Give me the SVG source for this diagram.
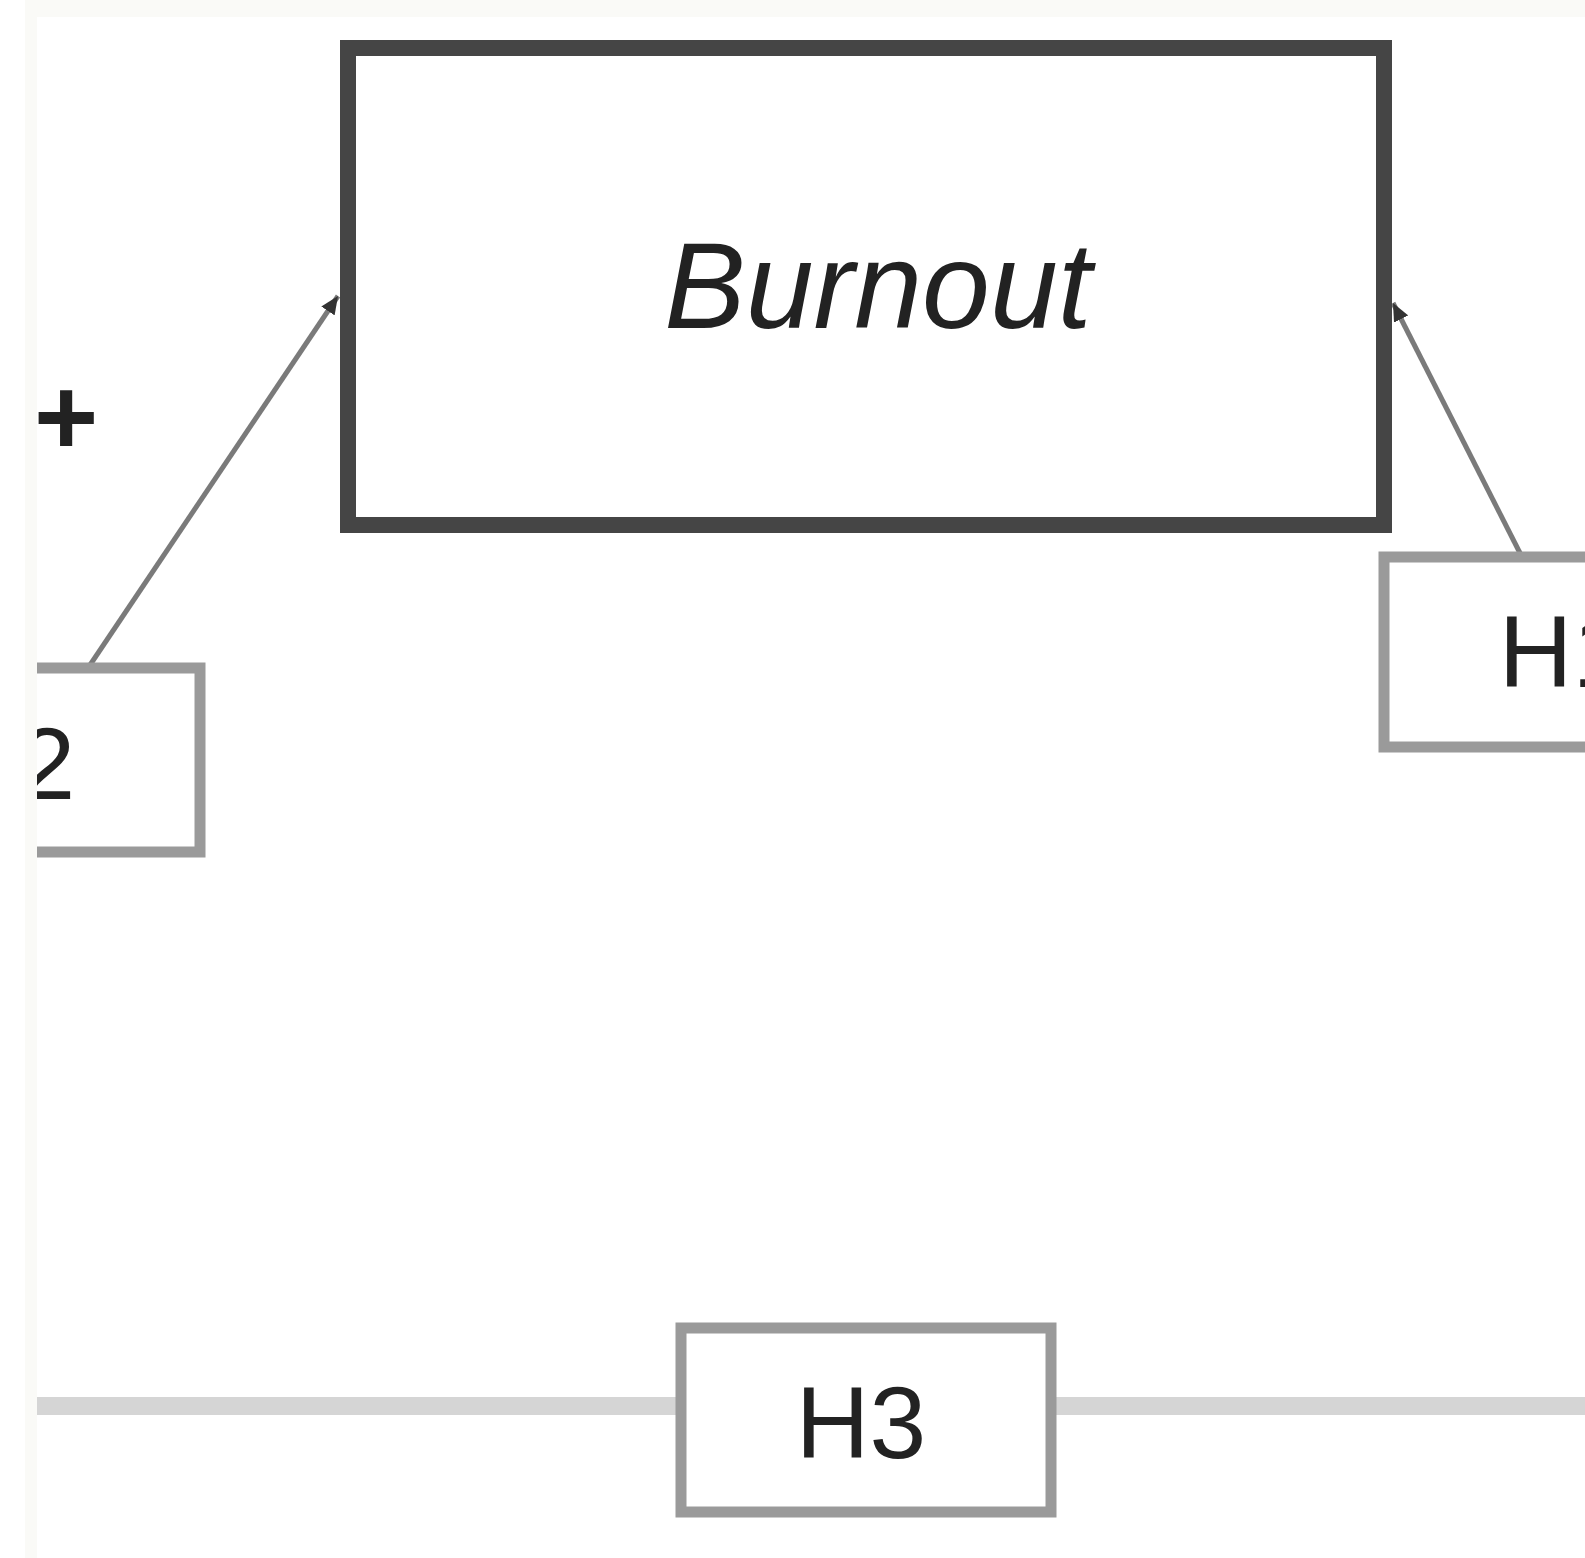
<svg xmlns="http://www.w3.org/2000/svg" width="1585" height="1558" viewBox="0 0 1585 1558">
  <style>
    .lbl { font-family: "Liberation Sans", Arial, sans-serif; fill: #222; }
    .hbox { fill: #ffffff; stroke: #9a9a9a; stroke-width: 11; }
    .edge { stroke: #7a7a7a; stroke-width: 5; fill: none; }
  </style>
  <defs>
    <marker id="arrow" markerUnits="userSpaceOnUse" markerWidth="20" markerHeight="16" refX="18" refY="8" orient="auto">
      <path d="M0,0 L18,8 L0,16 Z" fill="#333333"/>
    </marker>
    <clipPath id="content">
      <rect x="37" y="17" width="1548" height="1541"/>
    </clipPath>
  </defs>
  <rect x="0" y="0" width="1585" height="1558" fill="#ffffff"/>
  <rect x="25" y="0" width="1560" height="17" fill="#fafaf7"/>
  <rect x="25" y="0" width="12" height="1558" fill="#fafaf7"/>

  <g clip-path="url(#content)">
    <g id="divider">
      <line x1="37" y1="1406" x2="1585" y2="1406" stroke="#d5d5d5" stroke-width="18"/>
    </g>

    <g id="connectors">
      <line class="edge" x1="88" y1="668" x2="338" y2="296" marker-end="url(#arrow)"/>
      <line class="edge" x1="1522" y1="557" x2="1393" y2="303" marker-end="url(#arrow)"/>
      <text class="lbl" x="66" y="455" font-size="110" font-weight="bold" text-anchor="middle">+</text>
    </g>

    <g id="node-burnout">
      <rect x="348" y="48" width="1036" height="477" fill="#ffffff" stroke="#454545" stroke-width="16"/>
      <text class="lbl" x="878" y="328" font-size="122" font-style="italic" text-anchor="middle" fill="#333">Burnout</text>
    </g>

    <g id="node-h2">
      <rect class="hbox" x="-170" y="668" width="370" height="184"/>
      <text class="lbl" x="10" y="799" font-size="102" text-anchor="middle">H2</text>
    </g>

    <g id="node-h3">
      <rect class="hbox" x="681" y="1328" width="370" height="184"/>
      <text class="lbl" x="861" y="1458" font-size="102" text-anchor="middle">H3</text>
    </g>

    <g id="node-h1">
      <rect class="hbox" x="1384" y="557" width="370" height="190"/>
      <text class="lbl" x="1564" y="687" font-size="102" text-anchor="middle">H1</text>
    </g>
  </g>
</svg>
